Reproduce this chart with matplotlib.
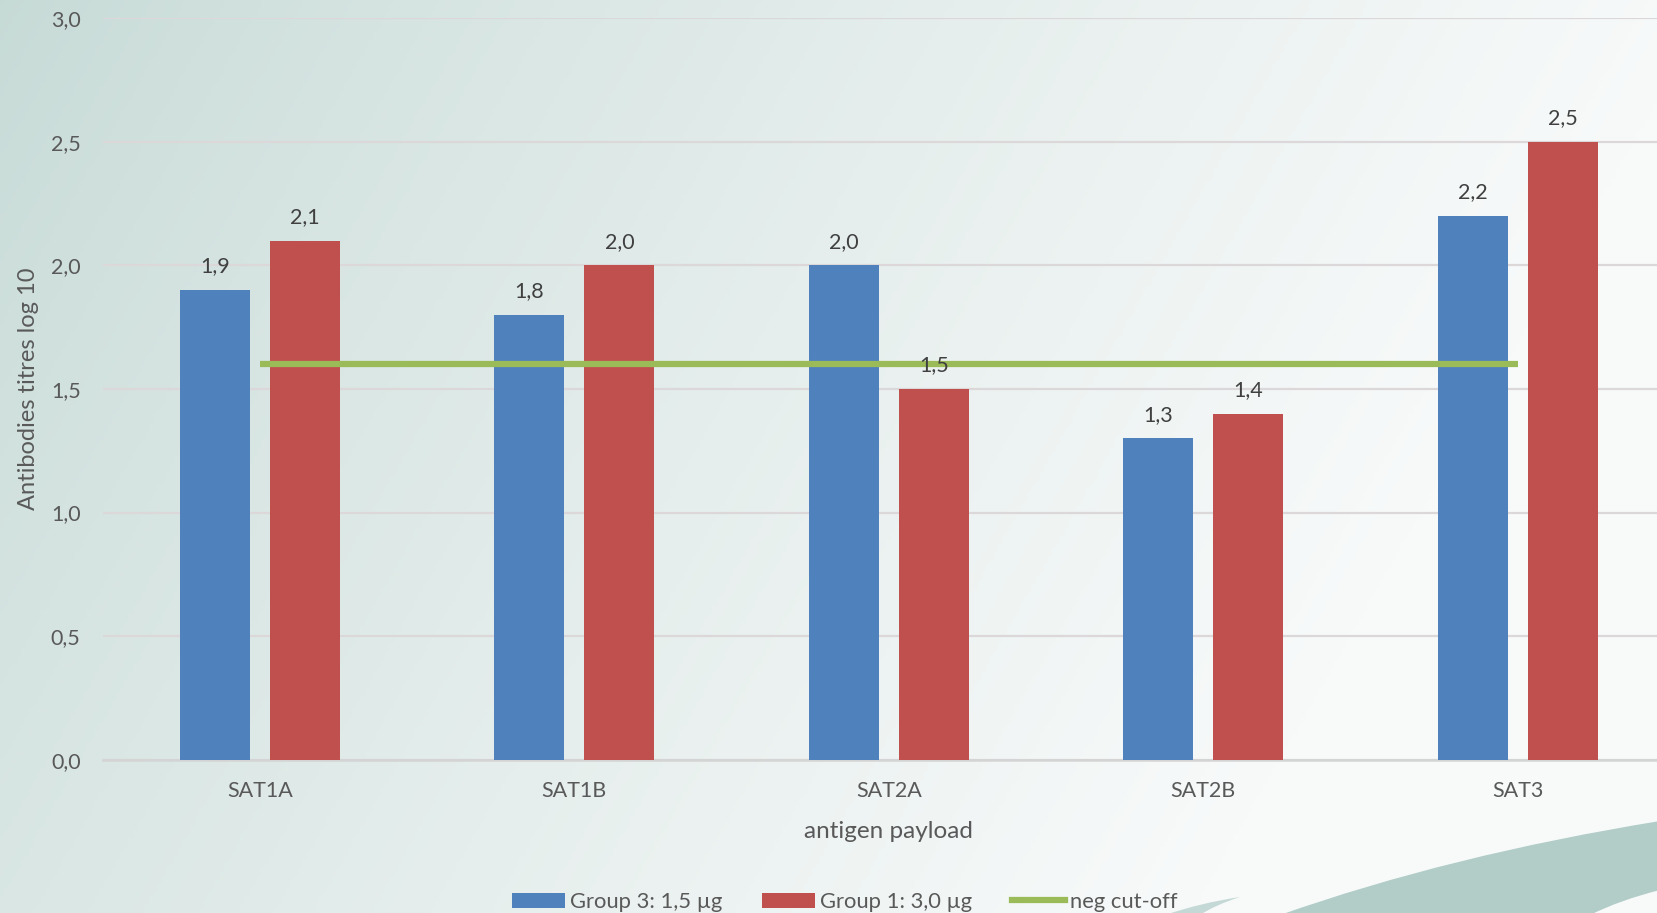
import numpy as np
import matplotlib
matplotlib.use('Agg')
from matplotlib import pyplot as plt
from matplotlib.path import Path
from matplotlib.patches import PathPatch, Patch
from matplotlib.lines import Line2D

categories = ['SAT1A', 'SAT1B', 'SAT2A', 'SAT2B', 'SAT3']
group3 = [1.9, 1.8, 2.0, 1.3, 2.2]
group1 = [2.1, 2.0, 1.5, 1.4, 2.5]
cutoff = 1.6
yticks = [0.0, 0.5, 1.0, 1.5, 2.0, 2.5, 3.0]

blue = '#4f81bd'
red = '#c0504d'
green = '#9bbb59'
txt = '#595959'

plt.rcParams['font.family'] = ['Lato', 'DejaVu Sans']

W, H = 1657, 913
fig = plt.figure(figsize=(W / 100, H / 100), dpi=100)

# background gradient (teal on the left, white to the right)
bg = fig.add_axes([0, 0, 1, 1], zorder=-10)
u = np.linspace(0, 1, 400)[None, :]
v = np.linspace(0, 1, 220)[:, None]
t = np.clip(0.95 * u + 0.3 * v, 0, 1) ** 0.8
c0 = np.array([0.776, 0.855, 0.839])
c1 = np.array([0.975, 0.982, 0.982])
img = c0[None, None, :] * (1 - t[..., None]) + c1[None, None, :] * t[..., None]
bg.imshow(img, extent=[0, 1, 0, 1], aspect='auto', origin='upper')
bg.set_xlim(0, 1)
bg.set_ylim(0, 1)
bg.axis('off')

# swoosh in the bottom right corner
def fp(x, y):
    return (x / W, 1 - y / H)

verts = [fp(1280, 915), fp(1450, 855), fp(1660, 821),
         fp(1660, 890), fp(1620, 900), fp(1590, 915), fp(1280, 915)]
codes = [Path.MOVETO, Path.CURVE3, Path.CURVE3,
         Path.LINETO, Path.CURVE3, Path.CURVE3, Path.CLOSEPOLY]
bg.add_patch(PathPatch(Path(verts, codes), facecolor='#b2cdc8', edgecolor='none'))
tip = [fp(1165, 915), fp(1200, 903), fp(1240, 897),
       fp(1215, 905), fp(1200, 915), fp(1165, 915)]
tcodes = [Path.MOVETO, Path.CURVE3, Path.CURVE3,
          Path.CURVE3, Path.CURVE3, Path.CLOSEPOLY]
bg.add_patch(PathPatch(Path(tip, tcodes), facecolor='#c4d9d5', edgecolor='none'))

ax = fig.add_axes([102.8 / W, 1 - 759.8 / H, (1674.8 - 102.8) / W, (759.8 - 18) / H])
ax.patch.set_alpha(0)

x = np.arange(len(categories))
off = 0.143
bw = 0.223
ax.bar(x - off, group3, bw, color=blue, zorder=3)
ax.bar(x + off, group1, bw, color=red, zorder=3)
ax.plot([x[0], x[-1]], [cutoff, cutoff], color=green, lw=4.5, zorder=4,
        solid_capstyle='butt')

for xi, v1, v2 in zip(x, group3, group1):
    ax.annotate(f'{v1:.1f}'.replace('.', ','), (xi - off, v1), xytext=(0, 17),
                textcoords='offset points', ha='center', va='center',
                fontsize=15.5, color='#404040', zorder=5)
    ax.annotate(f'{v2:.1f}'.replace('.', ','), (xi + off, v2), xytext=(0, 17),
                textcoords='offset points', ha='center', va='center',
                fontsize=15.5, color='#404040', zorder=5)

ax.set_xlim(-0.5, len(categories) - 0.5)
ax.set_ylim(0, 3.0)
ax.set_yticks(yticks)
ax.set_yticklabels([f'{t:.1f}'.replace('.', ',') for t in yticks])
ax.set_xticks(x)
ax.set_xticklabels(categories)
ax.tick_params(axis='y', length=0, pad=16, labelsize=15.5, labelcolor=txt)
ax.tick_params(axis='x', length=0, pad=15, labelsize=15.5, labelcolor=txt)
ax.grid(axis='y', color='#dcd8da', lw=1.6, zorder=0)
for s in ['top', 'right', 'left']:
    ax.spines[s].set_visible(False)
ax.spines['bottom'].set_color('#d4d4d4')
ax.spines['bottom'].set_linewidth(1.8)
ax.spines['bottom'].set_zorder(2)

ax.set_xlabel('antigen payload', fontsize=17.5, color=txt, labelpad=15)
fig.text(29 / W, 1 - 389 / H, 'Antibodies titres log 10', rotation=90,
         ha='center', va='center', fontsize=17, color=txt)

handles = [Patch(facecolor=blue), Patch(facecolor=red),
           Line2D([], [], color=green, lw=4.5)]
labels = ['Group 3: 1,5 µg', 'Group 1: 3,0 µg', 'neg cut-off']
fig.legend(handles, labels, loc='center', bbox_to_anchor=(845 / W, 1 - 902 / H),
           ncol=3, frameon=False, fontsize=15.8, labelcolor=txt,
           handlelength=2.4, handleheight=0.65, handletextpad=0.25,
           columnspacing=1.8)

fig.savefig('out.png', dpi=100)
